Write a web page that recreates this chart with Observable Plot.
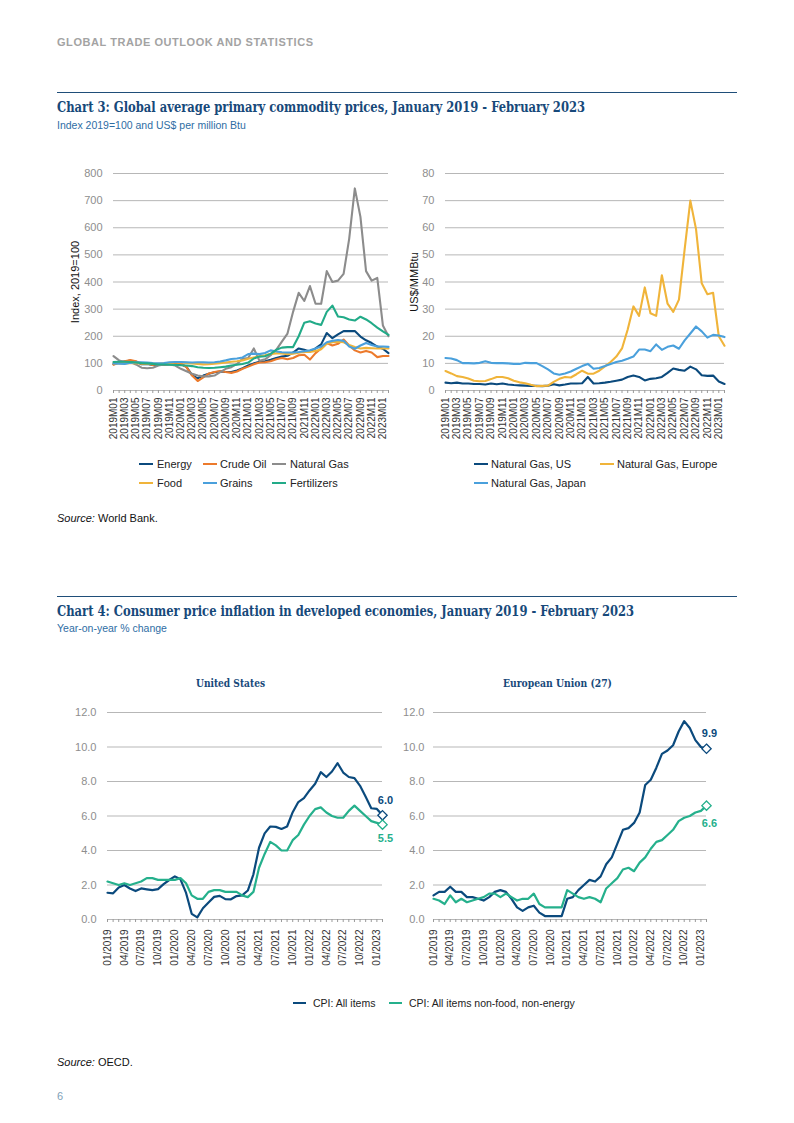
<!DOCTYPE html>
<html><head><meta charset="utf-8">
<script src="https://cdn.jsdelivr.net/npm/d3@7"></script>
<script src="https://cdn.jsdelivr.net/npm/@observablehq/plot@0.6"></script>
<style>
body{margin:0;background:#fff;}
#page{position:relative;width:794px;height:1123px;font-family:"Liberation Sans",Arial,sans-serif;color:#222;overflow:hidden;background:#fff;}
.abs{position:absolute;white-space:nowrap;line-height:1;}
.hdr{left:57px;top:37px;font-size:11px;font-weight:bold;color:#a3a3a3;letter-spacing:0.55px;}
.rule{position:absolute;left:57px;width:680px;height:0;border-top:1.3px solid #1f4e79;}
.title{left:57px;font-family:"DejaVu Serif Condensed","DejaVu Serif",serif;font-weight:bold;font-size:14px;color:#17497a;transform-origin:0 50%;}
.ptitle{font-family:"DejaVu Serif Condensed","DejaVu Serif",serif;font-weight:bold;font-size:11px;color:#17497a;transform-origin:0 50%;}
.sub{left:57px;font-size:10.5px;color:#2e6da4;}
.src{left:57px;font-size:11px;color:#111;}
.leg{font-size:11px;color:#222;}
.sw{position:absolute;height:2.6px;width:14px;}
.chart{position:absolute;}
</style></head>
<body><div id="page"></div>
<script>
// ---------- Data ----------
const months3 = ["2019M01","2019M02","2019M03","2019M04","2019M05","2019M06","2019M07","2019M08","2019M09","2019M10","2019M11","2019M12",
"2020M01","2020M02","2020M03","2020M04","2020M05","2020M06","2020M07","2020M08","2020M09","2020M10","2020M11","2020M12",
"2021M01","2021M02","2021M03","2021M04","2021M05","2021M06","2021M07","2021M08","2021M09","2021M10","2021M11","2021M12",
"2022M01","2022M02","2022M03","2022M04","2022M05","2022M06","2022M07","2022M08","2022M09","2022M10","2022M11","2022M12",
"2023M01","2023M02"];
const months4 = ["01/2019","02/2019","03/2019","04/2019","05/2019","06/2019","07/2019","08/2019","09/2019","10/2019","11/2019","12/2019",
"01/2020","02/2020","03/2020","04/2020","05/2020","06/2020","07/2020","08/2020","09/2020","10/2020","11/2020","12/2020",
"01/2021","02/2021","03/2021","04/2021","05/2021","06/2021","07/2021","08/2021","09/2021","10/2021","11/2021","12/2021",
"01/2022","02/2022","03/2022","04/2022","05/2022","06/2022","07/2022","08/2022","09/2022","10/2022","11/2022","12/2022",
"01/2023","02/2023"];

const indexTicks = [0,100,200,300,400,500,600,700,800];
const gasTicks = [0,10,20,30,40,50,60,70,80];
const cpiTicks = [0,2,4,6,8,10,12];

const energy = [97,103,107,110,106,97,98,94,95,95,97,100, 97,87,57,45,55,62,67,70,68,68,74,82, 92,100,106,108,113,120,125,128,140,155,150,143, 155,170,212,193,207,219,219,219,199,185,175,162, 154,138];
const crudeOil = [95,103,108,112,108,98,100,94,98,95,98,103, 100,86,55,35,48,63,68,72,68,65,70,80, 88,97,103,104,108,115,120,115,120,130,132,114, 138,155,175,166,172,188,166,148,140,146,140,123, 127,127];
const naturalGas = [127,111,105,105,96,84,82,84,92,96,96,92, 80,71,62,55,52,52,55,68,80,86,98,117, 120,155,110,115,130,150,180,210,290,360,330,385, 320,320,440,400,405,430,560,745,640,440,405,415, 240,200];
const food = [100,100,100,101,101,100,99,98,98,100,102,103, 104,102,100,98,96,97,99,101,103,106,108,111, 117,122,126,130,135,137,137,134,136,139,142,142, 146,152,172,178,180,178,168,160,155,157,156,155, 156,155];
const grains = [100,99,98,102,104,104,103,101,100,101,104,105, 105,104,103,104,104,103,104,107,111,116,118,122, 134,136,134,138,148,144,141,140,140,142,145,148, 155,162,178,183,186,183,162,154,166,175,168,162, 162,161];
const fertilizers = [105,106,106,105,103,101,100,98,96,96,95,94, 93,92,90,86,84,83,84,86,88,92,95,98, 103,118,125,126,135,150,158,160,160,200,250,255, 247,242,290,313,273,270,262,258,272,262,248,232, 218,205];

const gasUS = [2.9,2.7,2.9,2.6,2.6,2.4,2.4,2.2,2.6,2.3,2.6,2.2, 2.0,1.9,1.8,1.7,1.7,1.6,1.8,2.3,1.9,2.2,2.6,2.6, 2.7,5.0,2.6,2.7,2.9,3.2,3.6,4.0,5.0,5.5,5.0,3.7, 4.3,4.5,5.0,6.5,8.1,7.6,7.3,8.8,7.8,5.6,5.4,5.5, 3.3,2.4];
const gasEurope = [7.2,6.3,5.3,5.0,4.4,3.6,3.4,3.5,4.2,5.0,5.0,4.5, 3.6,3.0,2.7,2.1,1.6,1.7,1.8,3.2,4.3,5.0,4.8,6.0, 7.3,6.2,6.2,7.3,8.9,10.5,12.5,15.5,22.5,31.0,27.5,38.0, 28.5,27.5,42.5,32.0,29.0,33.5,52.0,70.0,59.5,39.5,35.5,36.0, 20.0,16.5];
const gasJapan = [12.0,11.8,11.2,10.1,10.1,10.0,10.2,10.8,10.2,10.1,10.1,10.0, 9.8,9.8,10.2,10.1,10.1,9.0,7.8,6.3,5.8,6.3,7.0,8.0, 9.0,9.8,8.0,8.3,9.0,9.8,10.5,11.0,11.7,12.5,15.1,15.1, 14.5,17.0,15.0,16.1,16.6,15.4,18.5,21.0,23.6,21.8,19.5,20.5, 20.3,19.7];

const usAll = [1.55,1.52,1.86,2.0,1.8,1.65,1.8,1.75,1.7,1.76,2.05,2.29, 2.5,2.33,1.54,0.33,0.12,0.65,0.99,1.31,1.37,1.18,1.17,1.36, 1.4,1.68,2.62,4.16,4.99,5.39,5.37,5.25,5.39,6.22,6.81,7.04, 7.48,7.87,8.54,8.26,8.58,9.06,8.52,8.26,8.2,7.75,7.11,6.45, 6.41,6.04];
const usCore = [2.2,2.1,2.0,2.1,2.0,2.1,2.2,2.4,2.4,2.3,2.3,2.3, 2.3,2.4,2.1,1.4,1.2,1.2,1.6,1.7,1.7,1.6,1.6,1.6, 1.4,1.3,1.6,3.0,3.8,4.5,4.3,4.0,4.0,4.6,4.9,5.5, 6.0,6.4,6.5,6.2,6.0,5.9,5.9,6.3,6.6,6.3,6.0,5.7, 5.6,5.5];
const euAll = [1.4,1.6,1.6,1.9,1.6,1.6,1.3,1.3,1.2,1.1,1.3,1.6, 1.7,1.6,1.2,0.7,0.5,0.7,0.8,0.4,0.2,0.2,0.2,0.2, 1.2,1.3,1.7,2.0,2.3,2.2,2.5,3.2,3.6,4.4,5.2,5.3, 5.6,6.2,7.8,8.1,8.8,9.6,9.8,10.1,10.9,11.5,11.1,10.4, 10.0,9.9];
const euCore = [1.2,1.1,0.9,1.4,1.0,1.2,1.0,1.1,1.2,1.3,1.5,1.5, 1.3,1.5,1.3,1.1,1.2,1.2,1.5,0.9,0.7,0.7,0.7,0.7, 1.7,1.5,1.3,1.2,1.3,1.2,1.0,1.8,2.1,2.4,2.9,3.0, 2.8,3.3,3.6,4.1,4.5,4.6,4.9,5.2,5.7,5.9,6.0,6.2, 6.3,6.6];

const indexNames = ["Energy","Crude Oil","Natural Gas","Food","Grains","Fertilizers"];
const indexColors = ["#0b4a7d","#ec7a2c","#8c8c8c","#f0b43a","#4aa0dc","#22ab88"];
const gasNames = ["Natural Gas, US","Natural Gas, Europe","Natural Gas, Japan"];
const gasColors = ["#0b4a7d","#f0b43a","#4aa0dc"];
const cpiNames = ["CPI: All items","CPI: All items non-food, non-energy"];
const cpiColors = ["#0b4a7d","#25b08c"];

// ---------- Page ----------
const page = document.getElementById("page");
function el(cls, html, css) {
  const d = document.createElement("div");
  d.className = "abs " + cls;
  d.innerHTML = html;
  Object.assign(d.style, css || {});
  page.appendChild(d);
  return d;
}
function rule(top) { const d = document.createElement("div"); d.className = "rule"; d.style.top = top + "px"; page.appendChild(d); }

el("hdr", "GLOBAL TRADE OUTLOOK AND STATISTICS");
rule(92);
const t3 = el("title", "Chart 3: Global average primary commodity prices, January 2019 - February 2023", {top: "100px"});
el("sub", "Index 2019=100 and US$ per million Btu", {top: "120px"});
rule(596);
const t4 = el("title", "Chart 4: Consumer price inflation in developed economies, January 2019 - February 2023", {top: "604px"});
el("sub", "Year-on-year % change", {top: "623px"});
el("src", "<i>Source:</i> World Bank.", {top: "512.5px"});
el("src", "<i>Source:</i> OECD.", {top: "1056.5px"});
el("src", "6", {top: "1090.5px", color: "#7f9fb8"});

function fitWidth(node, w) {
  const cur = node.getBoundingClientRect().width;
  node.style.transform = `scaleX(${w / cur})`;
}

// ---------- Panels ----------
function linesPanel(o) {
  const rows = [];
  o.series.forEach(s => s.values.forEach((v, i) => rows.push({x: o.months[i], y: v, name: s.name})));
  const marks = [
    Plot.gridY(o.yTicks, {stroke: "#a5a5a5", strokeOpacity: 1, strokeWidth: 0.8}),
    Plot.axisY(o.yTicks, {tickSize: 0, tickPadding: o.yPad, fill: "#8e8e8e", fontSize: 11, tickFormat: o.yFormat, label: null}),
    Plot.axisX(o.months, {tickSize: 3, stroke: "#9a9a9a", fill: "#333", fontSize: 10, tickRotate: -90, tickPadding: o.xPad,
      tickFormat: d => (o.months.indexOf(d) % o.every === 0 ? d : ""), label: null}),
    Plot.lineY(rows, {x: "x", y: "y", z: "name", stroke: "name", strokeWidth: o.lw, strokeLinejoin: "round"})
  ];
  if (o.ylabel) marks.push(Plot.text([o.ylabel], {frameAnchor: "left", dx: o.ylabDx, rotate: -90, textAnchor: "middle", lineAnchor: "middle", fill: "#111", fontSize: 11}));
  if (o.ends) o.ends.forEach(e => {
    const last = o.months.length - 1;
    const pt = [{x: o.months[last], y: e.values[last]}];
    marks.push(Plot.dot(pt, {x: "x", y: "y", symbol: "diamond2", r: 4.2, fill: "white", stroke: e.color, strokeWidth: 1.3}));
    marks.push(Plot.text(pt, {x: "x", y: "y", text: d => d3.format(".1f")(d.y), dx: e.dx, dy: e.dy, fill: e.color, fontWeight: "bold", fontSize: 11}));
  });
  const svg = Plot.plot({
    width: o.width, height: o.height,
    marginLeft: o.ml, marginRight: o.mr, marginTop: o.mt, marginBottom: o.mb,
    style: {fontFamily: "Liberation Sans, Arial, sans-serif", fontSize: "11px", background: "transparent", overflow: "visible"},
    x: {type: "point", domain: o.months, padding: 0, round: false},
    y: {domain: o.yDomain},
    color: {domain: o.series.map(s => s.name), range: o.series.map(s => s.color)},
    marks
  });
  const wrap = document.createElement("div");
  wrap.className = "chart";
  wrap.style.left = o.left + "px";
  wrap.style.top = o.top + "px";
  wrap.appendChild(svg);
  page.appendChild(wrap);
}

const idxSeries = [energy, crudeOil, naturalGas, food, grains, fertilizers].map((v, i) => ({name: indexNames[i], color: indexColors[i], values: v}));
linesPanel({left: 60, top: 163, width: 340, height: 282, ml: 53, mr: 12, mt: 10, mb: 55,
  months: months3, every: 2, xPad: 4, yTicks: indexTicks, yDomain: [0, 800], yPad: 11,
  series: idxSeries, lw: 2.1, ylabel: "Index, 2019=100", ylabDx: -38});

const gasSeries = [gasUS, gasEurope, gasJapan].map((v, i) => ({name: gasNames[i], color: gasColors[i], values: v}));
linesPanel({left: 400, top: 163, width: 340, height: 282, ml: 45, mr: 16, mt: 10, mb: 55,
  months: months3, every: 2, xPad: 4, yTicks: gasTicks, yDomain: [0, 80], yPad: 11,
  series: gasSeries, lw: 2.1, ylabel: "US$/MMBtu", ylabDx: -31});

const f1 = d3.format(".1f");
linesPanel({left: 60, top: 700, width: 340, height: 274, ml: 47, mr: 18, mt: 12, mb: 55,
  months: months4, every: 3, xPad: 7, yTicks: cpiTicks, yDomain: [0, 12], yPad: 11, yFormat: f1,
  series: [usAll, usCore].map((v, i) => ({name: cpiNames[i], color: cpiColors[i], values: v})), lw: 2.2,
  ends: [{values: usAll, color: cpiColors[0], dx: 3, dy: -15}, {values: usCore, color: cpiColors[1], dx: 3, dy: 14}]});

linesPanel({left: 400, top: 700, width: 340, height: 274, ml: 33, mr: 34, mt: 12, mb: 55,
  months: months4, every: 3, xPad: 7, yTicks: cpiTicks, yDomain: [0, 12], yPad: 9, yFormat: f1,
  series: [euAll, euCore].map((v, i) => ({name: cpiNames[i], color: cpiColors[i], values: v})), lw: 2.2,
  ends: [{values: euAll, color: cpiColors[0], dx: 3, dy: -15}, {values: euCore, color: cpiColors[1], dx: 3, dy: 18}]});

const pUS = el("ptitle", "United States", {top: "677.5px", left: "196px"});
const pEU = el("ptitle", "European Union (27)", {top: "677.5px", left: "503px"});

// ---------- Legends ----------
function legendItem(name, color, swLeft, textLeft, cy, size) {
  const s = document.createElement("div");
  s.className = "sw";
  s.style.left = swLeft + "px";
  s.style.top = (cy - 1.3) + "px";
  s.style.background = color;
  if (size === "s") s.style.width = "13px";
  page.appendChild(s);
  el("leg", name, {left: textLeft + "px", top: (cy - 5.5) + "px", fontSize: size === "s" ? "10.5px" : "11px"});
}
const legCols3 = [[139, 157], [203, 220], [272, 290]];
indexNames.forEach((n, i) => legendItem(n, indexColors[i], legCols3[i % 3][0], legCols3[i % 3][1], i < 3 ? 464 : 483));
legendItem(gasNames[0], gasColors[0], 474, 491, 464);
legendItem(gasNames[1], gasColors[1], 600, 617, 464);
legendItem(gasNames[2], gasColors[2], 474, 491, 483);
legendItem(cpiNames[0], cpiColors[0], 293, 313, 1003, "s");
legendItem(cpiNames[1], cpiColors[1], 389, 409, 1003, "s");

// ---------- Fit serif titles to reference widths ----------
fitWidth(t3, 528);
fitWidth(t4, 577);
fitWidth(pUS, 69);
fitWidth(pEU, 109);
</script>
</body></html>
